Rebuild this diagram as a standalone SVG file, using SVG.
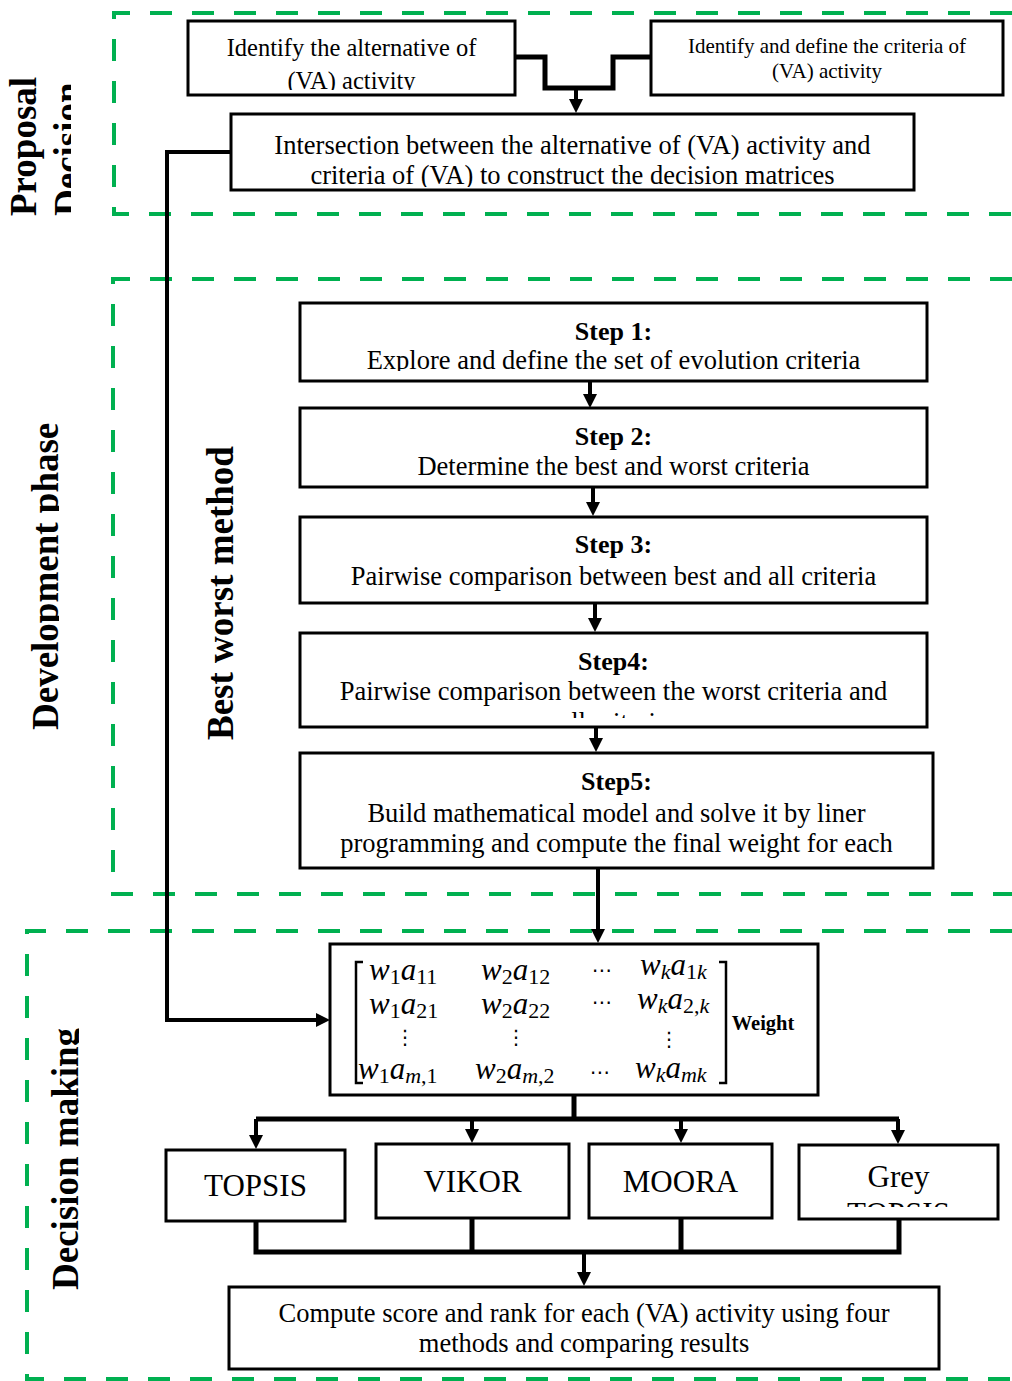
<svg xmlns="http://www.w3.org/2000/svg" width="1012" height="1381" viewBox="0 0 1012 1381">
<style>
.bg{fill:#fff}
.zone{fill:none;stroke:#00B050;stroke-width:4;stroke-dasharray:22 20}
.box{fill:#fff;stroke:#000;stroke-width:3}
.t{font-family:"Liberation Serif","Times New Roman",serif;fill:#000;text-anchor:middle}
.b{font-weight:bold}
.side{font-family:"Liberation Serif","Times New Roman",serif;font-weight:bold;font-size:37px;fill:#000}
.con{fill:none;stroke:#000;stroke-width:4}
.thick{stroke-width:5}
.m{font-family:"Liberation Serif","Times New Roman",serif;font-style:italic;font-size:31px;fill:#000}
.s{font-style:normal;font-size:22px}
.si{font-size:22px}
.dots{font-family:"DejaVu Sans",sans-serif;font-size:20px;fill:#000;text-anchor:middle}
</style>
<defs>
<marker id="ah" viewBox="0 0 14 14" markerWidth="14" markerHeight="14" markerUnits="userSpaceOnUse" refX="6" refY="7" orient="auto">
<path d="M0,0 L14,7 L0,14 z" fill="#000"/>
</marker>
<clipPath id="cA"><rect x="180" y="15" width="340" height="75"/></clipPath>
<clipPath id="cC"><rect x="225" y="110" width="700" height="77"/></clipPath>
<clipPath id="cS1"><rect x="295" y="300" width="640" height="71"/></clipPath>
<clipPath id="cS4"><rect x="295" y="630" width="640" height="88"/></clipPath>
<clipPath id="cG"><rect x="795" y="1140" width="210" height="67"/></clipPath>
<clipPath id="cDec"><rect x="0" y="0" width="71" height="240"/></clipPath>
<clipPath id="cDev"><rect x="0" y="270" width="59" height="500"/></clipPath>
<clipPath id="cDM"><rect x="0" y="1000" width="79" height="380"/></clipPath>
</defs>
<rect class="bg" x="0" y="0" width="1012" height="1381"/>

<g id="zones">
<path class="zone" d="M1012,13 H114 V214 H1012"/>
<path class="zone" d="M1012,279 H113 V894 H1012"/>
<path class="zone" d="M1012,931 H27 V1379 H1012"/>
</g>

<g id="labels">
<text class="side" transform="translate(36,216) rotate(-90)">Proposal</text>
<g clip-path="url(#cDec)"><text class="side" transform="translate(80,216) rotate(-90)">Decision</text></g>
<g clip-path="url(#cDev)"><text class="side" transform="translate(58,730) rotate(-90)">Development phase</text></g>
<text class="side" transform="translate(233,740) rotate(-90)">Best worst method</text>
<g clip-path="url(#cDM)"><text class="side" transform="translate(78,1290) rotate(-90)">Decision making</text></g>
</g>

<g id="connectors">
<path class="con thick" d="M515,57 H545 V88 H613 V57 H651"/>
<path class="con" d="M576,88 V105" marker-end="url(#ah)"/>
<path class="con" d="M231,152 H167 V1020 H322" marker-end="url(#ah)"/>
<path class="con" d="M590,382 V400" marker-end="url(#ah)"/>
<path class="con" d="M593,487 V508" marker-end="url(#ah)"/>
<path class="con" d="M595,604 V624" marker-end="url(#ah)"/>
<path class="con" d="M596,727 V744" marker-end="url(#ah)"/>
<path class="con" d="M598,868 V935" marker-end="url(#ah)"/>
<path class="con thick" d="M574,1095 V1119 M256,1119 H899"/>
<path class="con" d="M256,1119 V1141" marker-end="url(#ah)"/>
<path class="con" d="M472,1119 V1135" marker-end="url(#ah)"/>
<path class="con" d="M681,1119 V1135" marker-end="url(#ah)"/>
<path class="con" d="M898,1119 V1136" marker-end="url(#ah)"/>
<path class="con thick" d="M256,1221 V1252 H899 V1219 M472,1218 V1252 M681,1218 V1252"/>
<path class="con" d="M584,1252 V1278" marker-end="url(#ah)"/>
</g>

<g id="nodeA">
<rect class="box" x="188" y="21" width="327" height="74"/>
<g clip-path="url(#cA)">
<text class="t" x="351.5" y="56" font-size="24.5">Identify the alternative of</text>
<text class="t" x="351.5" y="89" font-size="24.5">(VA) activity</text>
</g>
</g>
<g id="nodeB">
<rect class="box" x="651" y="21" width="352" height="74"/>
<text class="t" x="827" y="53" font-size="21">Identify and define the criteria of</text>
<text class="t" x="827" y="78" font-size="21">(VA) activity</text>
</g>
<g id="nodeC">
<rect class="box" x="231" y="114" width="683" height="76"/>
<g clip-path="url(#cC)">
<text class="t" x="572.5" y="154" font-size="26.5">Intersection between the alternative of (VA) activity and</text>
<text class="t" x="572.5" y="184" font-size="26.5">criteria of (VA) to construct the decision matrices</text>
</g>
</g>

<g id="step1">
<rect class="box" x="300" y="303" width="627" height="78"/>
<text class="t b" x="613.5" y="340" font-size="26">Step 1:</text>
<g clip-path="url(#cS1)"><text class="t" x="613.5" y="369" font-size="26.5">Explore and define the set of evolution criteria</text></g>
</g>
<g id="step2">
<rect class="box" x="300" y="408" width="627" height="79"/>
<text class="t b" x="613.5" y="445" font-size="26">Step 2:</text>
<text class="t" x="613.5" y="475" font-size="26.5">Determine the best and worst criteria</text>
</g>
<g id="step3">
<rect class="box" x="300" y="517" width="627" height="86"/>
<text class="t b" x="613.5" y="553" font-size="26">Step 3:</text>
<text class="t" x="613.5" y="585" font-size="26.5">Pairwise comparison between best and all criteria</text>
</g>
<g id="step4">
<rect class="box" x="300" y="633" width="627" height="94"/>
<text class="t b" x="613.5" y="670" font-size="26">Step4:</text>
<g clip-path="url(#cS4)">
<text class="t" x="613.5" y="700" font-size="26.5">Pairwise comparison between the worst criteria and</text>
<text class="t" x="613.5" y="731" font-size="26.5">all criteria</text>
</g>
</g>
<g id="step5">
<rect class="box" x="300" y="753" width="633" height="115"/>
<text class="t b" x="616.5" y="790" font-size="26">Step5:</text>
<text class="t" x="616.5" y="822" font-size="26.5">Build mathematical model and solve it by liner</text>
<text class="t" x="616.5" y="852" font-size="26.5">programming and compute the final weight for each</text>
</g>

<g id="matrix">
<rect class="box" x="330" y="944" width="488" height="151"/>
<path d="M363,962 H356 V1083 H363 M719,962 H726 V1083 H719" fill="none" stroke="#000" stroke-width="2.5"/>
<text class="m" x="369" y="980">w<tspan class="s" dy="4">1</tspan><tspan dy="-4">a</tspan><tspan class="s" dy="4">11</tspan></text>
<text class="m" x="481" y="980">w<tspan class="s" dy="4">2</tspan><tspan dy="-4">a</tspan><tspan class="s" dy="4">12</tspan></text>
<text class="dots" x="602" y="977">⋯</text>
<text class="m" x="640" y="975">w<tspan class="si" dy="4">k</tspan><tspan dy="-4">a</tspan><tspan class="s" dy="4">1</tspan><tspan class="si">k</tspan></text>
<text class="m" x="369" y="1014">w<tspan class="s" dy="4">1</tspan><tspan dy="-4">a</tspan><tspan class="s" dy="4">21</tspan></text>
<text class="m" x="481" y="1014">w<tspan class="s" dy="4">2</tspan><tspan dy="-4">a</tspan><tspan class="s" dy="4">22</tspan></text>
<text class="dots" x="602" y="1009">⋯</text>
<text class="m" x="637" y="1009">w<tspan class="si" dy="4">k</tspan><tspan dy="-4">a</tspan><tspan class="s" dy="4">2,</tspan><tspan class="si">k</tspan></text>
<text class="dots" x="405" y="1044" font-size="24">⋮</text>
<text class="dots" x="516" y="1044" font-size="24">⋮</text>
<text class="dots" x="669" y="1046" font-size="24">⋮</text>
<text class="m" x="358" y="1079">w<tspan class="s" dy="4">1</tspan><tspan dy="-4">a</tspan><tspan class="si" dy="4">m</tspan><tspan class="s">,1</tspan></text>
<text class="m" x="475" y="1079">w<tspan class="s" dy="4">2</tspan><tspan dy="-4">a</tspan><tspan class="si" dy="4">m</tspan><tspan class="s">,2</tspan></text>
<text class="dots" x="600" y="1079">⋯</text>
<text class="m" x="635" y="1078">w<tspan class="si" dy="4">k</tspan><tspan dy="-4">a</tspan><tspan class="si" dy="4">mk</tspan></text>
<text class="t b" x="763" y="1030" font-size="20.5">Weight</text>
</g>

<g id="topsis">
<rect class="box" x="166" y="1150" width="179" height="71"/>
<text class="t" x="255.5" y="1196" font-size="31">TOPSIS</text>
</g>
<g id="vikor">
<rect class="box" x="376" y="1144" width="193" height="74"/>
<text class="t" x="472.5" y="1192" font-size="31">VIKOR</text>
</g>
<g id="moora">
<rect class="box" x="589" y="1144" width="183" height="74"/>
<text class="t" x="680.5" y="1192" font-size="31">MOORA</text>
</g>
<g id="greytopsis">
<rect class="box" x="799" y="1145" width="199" height="74"/>
<g clip-path="url(#cG)">
<text class="t" x="898.5" y="1187" font-size="31">Grey</text>
<text class="t" x="898.5" y="1224" font-size="31">TOPSIS</text>
</g>
</g>

<g id="compute">
<rect class="box" x="229" y="1287" width="710" height="82"/>
<text class="t" x="584" y="1322" font-size="26.5">Compute score and rank for each (VA) activity using four</text>
<text class="t" x="584" y="1352" font-size="26.5">methods and comparing results</text>
</g>
</svg>
